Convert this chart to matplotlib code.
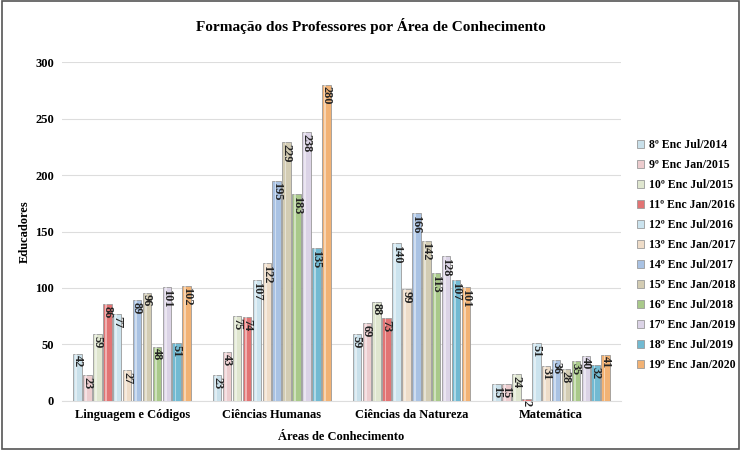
import numpy as np
import matplotlib
matplotlib.use('Agg')
import matplotlib.pyplot as plt
from matplotlib.patches import Rectangle

# categories and series
areas = ['Linguagem e Códigos', 'Ciências Humanas', 'Ciências da Natureza', 'Matemática']
encontros = ['8º Enc Jul/2014', '9º Enc Jan/2015', '10º Enc Jul/2015', '11º Enc Jan/2016',
             '12º Enc Jul/2016', '13º Enc Jan/2017', '14º Enc Jul/2017', '15º Enc Jan/2018',
             '16º Enc Jul/2018', '17º Enc Jan/2019', '18º Enc Jul/2019', '19º Enc Jan/2020']
# values per encontro, in the order of areas
valores = [
    [42, 23, 59, 15],
    [23, 43, 69, 15],
    [59, 75, 88, 24],
    [86, 74, 73, 2],
    [77, 107, 140, 51],
    [27, 122, 99, 31],
    [89, 195, 166, 36],
    [96, 229, 142, 28],
    [48, 183, 113, 35],
    [101, 238, 128, 40],
    [51, 135, 107, 32],
    [102, 280, 101, 41],
]
cores = ['#c9e0ea', '#ecccce', '#dfe6cf', '#e27474', '#cbe3ee', '#eedcc8',
         '#a9c2e3', '#d3ccb3', '#a9c98a', '#dbd3e6', '#72bad2', '#f2b274']

serif = 'Liberation Serif'

fig = plt.figure(figsize=(7.41, 4.5), dpi=100)
ax = fig.add_axes([0.084, 0.109, 0.754, 0.753])

n = len(encontros)
x = np.arange(len(areas))
w = 0.071
for i in range(n):
    pos = x + (i - (n - 1) / 2) * w
    bars = ax.bar(pos, valores[i], width=w * 0.86, color=cores[i], edgecolor='#9a9a9a',
                  linewidth=0.6, label=encontros[i], zorder=3)
    for b, v in zip(bars, valores[i]):
        # cylinder highlight
        ax.add_patch(Rectangle((b.get_x() + b.get_width() * 0.25, 0), b.get_width() * 0.22, v,
                               color='white', alpha=0.45, lw=0, zorder=4))
        ax.text(b.get_x() + b.get_width() / 2, v - 1.5, str(v), rotation=270,
                ha='center', va='top', fontsize=8.8, fontweight='bold', family=serif,
                color='#222222', zorder=5)

ax.set_ylim(0, 300)
ax.set_xlim(-0.5, 3.5)
ax.set_yticks(range(0, 301, 50))
ax.set_xticks(x)
ax.set_xticklabels(areas, fontsize=9, fontweight='bold', family=serif)
for t in ax.get_yticklabels():
    t.set_fontsize(9)
    t.set_fontweight('bold')
    t.set_family(serif)
ax.tick_params(length=0, pad=6)
ax.yaxis.grid(True, color='#dddddd', linewidth=0.8, zorder=0)
for s in ['top', 'right', 'left']:
    ax.spines[s].set_visible(False)
ax.spines['bottom'].set_color('#dddddd')

ax.set_ylabel('Educadores', fontsize=9, fontweight='bold', family=serif)
ax.yaxis.set_label_coords(-0.056, 0.5)
ax.set_xlabel('Áreas de Conhecimento', fontsize=9, fontweight='bold', family=serif, labelpad=7)
fig.text(0.5, 0.943, 'Formação dos Professores por Área de Conhecimento', ha='center',
         va='center', fontsize=11, fontweight='bold', family=serif)

leg = ax.legend(loc='center left', bbox_to_anchor=(1.01, 0.43), frameon=False,
                prop={'family': serif, 'weight': 'bold', 'size': 8.5},
                handlelength=0.6, handleheight=0.6, handletextpad=0.4, labelspacing=0.68)

# outer frame
fig.patches.append(Rectangle((0.003, 0.003), 0.994, 0.994, transform=fig.transFigure,
                             fill=False, edgecolor='#555555', linewidth=1.2))

fig.savefig('out.png', dpi=100)
